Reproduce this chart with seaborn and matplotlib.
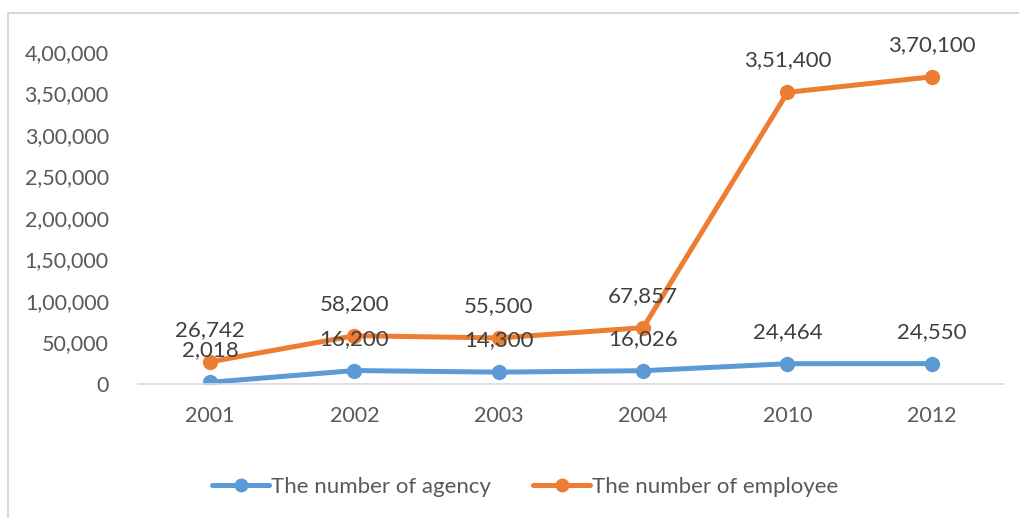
import matplotlib
matplotlib.use("Agg")
import matplotlib.pyplot as plt
import matplotlib.ticker as mticker
from matplotlib.lines import Line2D
import seaborn as sns
import pandas as pd

years = ["2001", "2002", "2003", "2004", "2010", "2012"]
agency = [2018, 16200, 14300, 16026, 24464, 24550]
employee = [26742, 58200, 55500, 67857, 351400, 370100]
series_names = ["The number of agency", "The number of employee"]
colors = ["#5B9BD5", "#ED7D31"]

sns.set_theme(style="white")
plt.rcParams["font.family"] = ["Lato", "DejaVu Sans"]

df = pd.DataFrame({
    "Year": years * 2,
    "Value": agency + employee,
    "Series": [series_names[0]] * len(years) + [series_names[1]] * len(years),
})

fig = plt.figure(figsize=(10.2, 5.18), dpi=100)
ax = fig.add_axes([138 / 1020, 1 - 384 / 518, (1004 - 138) / 1020, (384 - 52) / 518])

sns.lineplot(data=df, x="Year", y="Value", hue="Series", palette=colors,
             marker="o", markersize=11, markeredgewidth=0, linewidth=3.6,
             sort=False, legend=False, ax=ax)

ax.set_xlim(-0.5, len(years) - 0.5)
ax.set_ylim(0, 400000)
ax.yaxis.set_major_locator(mticker.MultipleLocator(50000))


def indian(v, pos=None):
    v = int(round(v))
    s = str(abs(v))
    if len(s) > 3:
        head, tail = s[:-3], s[-3:]
        parts = []
        while len(head) > 2:
            parts.insert(0, head[-2:])
            head = head[:-2]
        if head:
            parts.insert(0, head)
        s = ",".join(parts) + "," + tail
    return ("-" if v < 0 else "") + s


ax.yaxis.set_major_formatter(mticker.FuncFormatter(indian))
ax.set_xlabel("")
ax.set_ylabel("")
for sp in ["top", "right", "left"]:
    ax.spines[sp].set_visible(False)
ax.spines["bottom"].set_color("#D9D9D9")
ax.spines["bottom"].set_linewidth(1.2)
ax.tick_params(axis="both", length=0, labelsize=15.5, colors="#595959")
ax.tick_params(axis="y", pad=21)
ax.tick_params(axis="x", pad=16)

for series, vals in zip(series_names, [agency, employee]):
    for i, v in enumerate(vals):
        ax.annotate(indian(v), (i, v), xytext=(0, 23), textcoords="offset points",
                    ha="center", va="center", fontsize=16, color="#404040")

handles = [Line2D([0], [0], color=c, lw=3.6, marker="o", markersize=10,
                  markeredgewidth=0) for c in colors]
leg = fig.legend(handles, series_names, loc="center", bbox_to_anchor=(0.515, 1 - 487 / 518),
                 ncol=2, frameon=False, fontsize=16, handlelength=2.55, handletextpad=0.1,
                 columnspacing=1.9)
for t in leg.get_texts():
    t.set_color("#595959")

# chart area border (top and left visible)
fig.add_artist(Line2D([8 / 1020, 1.0], [1 - 13 / 518, 1 - 13 / 518], transform=fig.transFigure,
                      color="#D9D9D9", lw=1.5))
fig.add_artist(Line2D([8 / 1020, 8 / 1020], [0, 1 - 13 / 518], transform=fig.transFigure,
                      color="#D9D9D9", lw=1.5))

fig.savefig("out.png", dpi=100, facecolor="white")
